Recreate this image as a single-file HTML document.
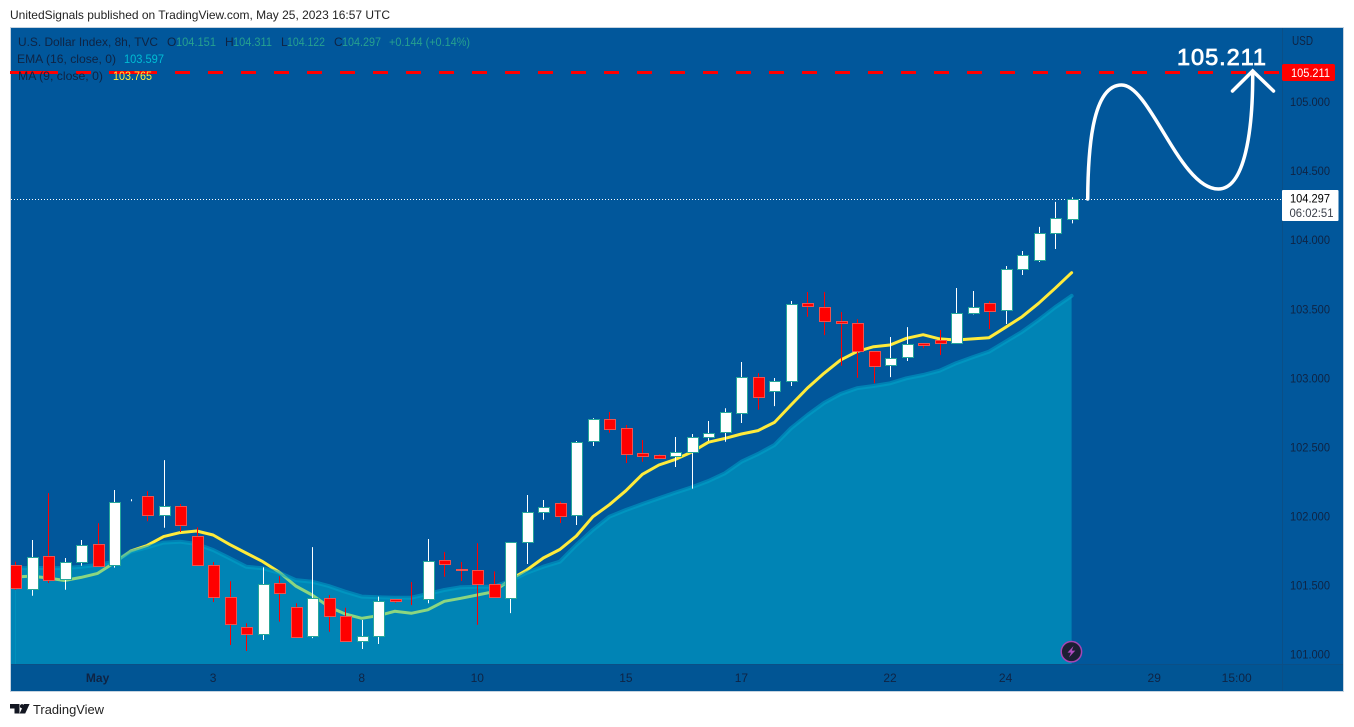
<!DOCTYPE html>
<html lang="en">
<head>
<meta charset="utf-8">
<title>U.S. Dollar Index chart</title>
<style>
html,body{margin:0;padding:0;background:#fff;width:1354px;height:727px;overflow:hidden}
svg{display:block;font-family:"Liberation Sans",sans-serif}
</style>
</head>
<body>
<svg id="chart" xmlns="http://www.w3.org/2000/svg" width="1354" height="727" viewBox="0 0 1354 727">
  <defs><clipPath id="plotClip"><rect x="11" y="28" width="1271" height="636"/></clipPath></defs>
  <text x="10" y="19" font-size="12" fill="#222" textLength="380" lengthAdjust="spacingAndGlyphs">UnitedSignals published on TradingView.com, May 25, 2023 16:57 UTC</text>
  <rect x="10.5" y="27.5" width="1333" height="664" fill="#01579b" stroke="#c5d3e0"/>
  <rect x="11" y="664" width="1332" height="27" fill="#015594"/>
  <g id="plot" clip-path="url(#plotClip)"></g>
  <line x1="1282.5" y1="28" x2="1282.5" y2="691" stroke="#0b4f86"/>
  <line x1="11" y1="664.5" x2="1343" y2="664.5" stroke="#0b4f86"/>
  <g id="priceAxis"></g>
  <g id="timeAxis"></g>
  <g id="overlay">
    <line x1="10" y1="72.5" x2="1282" y2="72.5" stroke="#ff0000" stroke-width="3" stroke-dasharray="15 18"/>
    <line x1="25" y1="72.5" x2="43" y2="72.5" stroke="#ff0000" stroke-width="3"/>
    <line x1="124" y1="72.5" x2="142" y2="72.5" stroke="#ff0000" stroke-width="3"/>
    <path d="M1087.7 199 C1088 150 1092 85 1121.7 85 C1150 85 1180 189 1218.3 189 C1245 189 1253 130 1252.7 72" fill="none" stroke="#fff" stroke-width="3.5" stroke-linecap="round"/>
    <path d="M1232.5 91 L1252.7 71 L1273.5 91" fill="none" stroke="#fff" stroke-width="3.5" stroke-linecap="round" stroke-linejoin="miter"/>
    <text x="1177" y="65" font-size="23.5" fill="#fff" stroke="#fff" stroke-width="0.8" textLength="89" lengthAdjust="spacing">105.211</text>
  </g>
  <g font-size="12">
    <text x="18" y="46" fill="#0f2444" textLength="140" lengthAdjust="spacingAndGlyphs">U.S. Dollar Index, 8h, TVC</text>
    <text x="167" y="46" fill="#0f2444">O</text>
    <text x="176" y="46" fill="#26a08f" textLength="40" lengthAdjust="spacingAndGlyphs">104.151</text>
    <text x="225" y="46" fill="#0f2444">H</text>
    <text x="233" y="46" fill="#26a08f" textLength="39" lengthAdjust="spacingAndGlyphs">104.311</text>
    <text x="281" y="46" fill="#0f2444">L</text>
    <text x="287" y="46" fill="#26a08f" textLength="38" lengthAdjust="spacingAndGlyphs">104.122</text>
    <text x="334" y="46" fill="#0f2444">C</text>
    <text x="342" y="46" fill="#26a08f" textLength="39" lengthAdjust="spacingAndGlyphs">104.297</text>
    <text x="389" y="46" fill="#26a08f" textLength="81" lengthAdjust="spacingAndGlyphs">+0.144 (+0.14%)</text>
    <text x="17" y="63" fill="#0f2444" textLength="99" lengthAdjust="spacingAndGlyphs">EMA (16, close, 0)</text>
    <text x="124" y="63" fill="#00bcd4" textLength="40" lengthAdjust="spacingAndGlyphs">103.597</text>
    <text x="18" y="80" fill="#0f2444" textLength="85" lengthAdjust="spacingAndGlyphs">MA (9, close, 0)</text>
    <text x="113" y="80" fill="#ffeb3b" textLength="39" lengthAdjust="spacingAndGlyphs">103.765</text>
  </g>
  <text x="1292" y="45" font-size="13" fill="#0f2444" textLength="21" lengthAdjust="spacingAndGlyphs">USD</text>
  <g>
    <rect x="1282" y="64" width="53" height="17" rx="2" fill="#ff0000"/>
    <text x="1291" y="77" font-size="12" fill="#fff" textLength="39" lengthAdjust="spacingAndGlyphs">105.211</text>
  </g>
  <g>
    <rect x="1282" y="190" width="56.5" height="31" rx="1" fill="#fff"/>
    <text x="1290" y="202.5" font-size="12" fill="#000" textLength="40" lengthAdjust="spacingAndGlyphs">104.297</text>
    <text x="1289.5" y="217" font-size="12" fill="#3a3f4a" textLength="44" lengthAdjust="spacingAndGlyphs">06:02:51</text>
  </g>
  <g>
    <circle cx="1071.4" cy="651.7" r="10.2" fill="#1c1f33" stroke="#a646b4" stroke-width="1.5"/>
    <path d="M1073.5 646 L1067.5 652.6 L1071 652.6 L1069 657.4 L1075.3 650.6 L1071.8 650.6 Z" fill="#b04cc0"/>
  </g>
  <g>
    <path d="M10 704 H19.5 V713.5 H14.5 V708.5 H10 Z M24 704 H29.6 L25.2 713.5 H19.6 Z" fill="#131722"/>
    <circle cx="22" cy="706.2" r="2.1" fill="#131722"/>
    <text x="33" y="714" font-size="13" fill="#222" textLength="71" lengthAdjust="spacingAndGlyphs">TradingView</text>
  </g>
</svg>
<script>
const opens = [101.646,101.472,101.711,101.545,101.668,101.798,101.646,102.112,102.146,102.008,102.073,101.856,101.646,101.414,101.197,101.146,101.513,101.342,101.132,101.407,101.277,101.096,101.132,101.395,101.400,101.400,101.682,101.618,101.610,101.508,101.407,101.812,102.030,102.095,102.008,102.544,102.703,102.638,102.457,102.442,102.432,102.464,102.573,102.609,102.747,103.007,102.906,102.978,103.543,103.514,103.413,103.398,103.195,103.094,103.152,103.253,103.275,103.253,103.471,103.543,103.492,103.789,103.854,104.050,104.151];
const highs = [101.672,101.829,102.169,101.699,101.829,101.950,102.191,102.124,102.182,102.408,102.090,101.921,101.670,101.530,101.226,101.631,101.568,101.371,101.778,101.431,101.339,101.250,101.419,101.395,101.525,101.836,101.742,101.670,101.805,101.602,101.812,102.155,102.119,102.106,102.546,102.712,102.756,102.662,102.553,102.450,102.575,102.597,102.691,102.783,103.118,103.036,103.002,103.560,103.625,103.625,103.480,103.427,103.195,103.299,103.371,103.253,103.350,103.654,103.632,103.557,103.813,103.922,104.096,104.277,104.311];
const lows = [101.469,101.426,101.518,101.469,101.643,101.636,101.629,102.110,101.965,101.918,101.887,101.646,101.380,101.069,101.025,101.105,101.238,101.125,101.119,101.165,101.096,101.040,101.076,101.375,101.358,101.371,101.563,101.532,101.216,101.414,101.300,101.655,101.976,101.952,101.938,102.510,102.606,102.387,102.396,102.418,102.358,102.201,102.546,102.541,102.676,102.773,102.799,102.944,103.446,103.313,103.091,103.004,102.964,103.009,103.125,103.219,103.169,103.253,103.463,103.357,103.393,103.748,103.842,103.936,104.122];
const closes = [101.479,101.704,101.537,101.668,101.788,101.636,102.102,102.114,102.008,102.073,101.936,101.646,101.414,101.219,101.146,101.505,101.443,101.125,101.407,101.277,101.096,101.132,101.385,101.382,101.397,101.675,101.650,101.610,101.505,101.414,101.812,102.030,102.066,101.998,102.537,102.703,102.631,102.447,102.432,102.418,102.464,102.573,102.602,102.754,103.007,102.862,102.978,103.536,103.521,103.413,103.398,103.195,103.087,103.145,103.246,103.239,103.253,103.471,103.514,103.485,103.789,103.891,104.050,104.159,104.297];
const emaValues = [101.624,101.626,101.626,101.624,101.636,101.648,101.672,101.744,101.776,101.810,101.817,101.800,101.757,101.697,101.636,101.624,101.592,101.539,101.527,101.496,101.455,101.419,101.414,101.411,101.411,101.438,101.467,101.487,101.491,101.491,101.534,101.592,101.636,101.672,101.793,101.902,101.998,102.046,102.090,102.131,102.172,102.211,102.256,102.312,102.396,102.452,102.517,102.638,102.734,102.821,102.886,102.928,102.944,102.964,103.000,103.024,103.055,103.109,103.152,103.193,103.265,103.337,103.422,103.514,103.597];
const maValues = [101.561,101.568,101.554,101.536,101.558,101.587,101.663,101.749,101.789,101.854,101.883,101.894,101.865,101.797,101.735,101.673,101.597,101.496,101.431,101.346,101.293,101.262,101.281,101.313,101.298,101.324,101.385,101.407,101.431,101.455,101.542,101.612,101.699,101.760,101.858,101.998,102.085,102.186,102.305,102.372,102.413,102.466,102.537,102.565,102.597,102.621,102.681,102.807,102.930,103.036,103.132,103.193,103.229,103.241,103.290,103.316,103.285,103.277,103.285,103.294,103.369,103.446,103.543,103.652,103.765];
const priceTicks = [105,104.5,104,103.5,103,102.5,102,101.5,101];
const priceTickLabels = ["105.000","104.500","104.000","103.500","103.000","102.500","102.000","101.500","101.000"];
const timeTickBars = [5,12,21,28,37,44,53,60,69,74];
const timeTickLabels = ["May","3","8","10","15","17","22","24","29","15:00"];
const lastPrice = 104.297;

const SVG_NS = 'http://www.w3.org/2000/svg';
const xScale = i => 15 + i * 16.51;
const yScale = p => 654.5 - (p - 101) * 138.1;
const plot = document.getElementById('plot');
const priceAxis = document.getElementById('priceAxis');
const timeAxis = document.getElementById('timeAxis');

function make(tag, parent, attrs) {
  const node = document.createElementNS(SVG_NS, tag);
  for (const k in attrs) node.setAttribute(k, attrs[k]);
  parent.appendChild(node);
  return node;
}
const snap = v => Math.round(v - 0.5) + 0.5;

const maPoints = maValues.map((v, i) => xScale(i).toFixed(1) + ',' + yScale(v).toFixed(1)).join(' ');
const maLine = make('polyline', plot, {points: maPoints, fill: 'none', stroke: '#ffeb3b', 'stroke-width': 3, 'stroke-linejoin': 'round', 'stroke-linecap': 'round'});



const lastBar = emaValues.length - 1;
const emaPoints = emaValues.map((v, i) => xScale(i).toFixed(1) + ',' + yScale(v).toFixed(1));
const areaPath = 'M' + xScale(0).toFixed(1) + ' 664 L' + emaPoints.join(' L') + ' L' + xScale(lastBar).toFixed(1) + ' 664 Z';
const leftEdge = make('rect', plot, {x: 11, y: yScale(emaValues[0]).toFixed(1), width: 4.5, height: (664 - yScale(emaValues[0])).toFixed(1), fill: '#00bcd4', 'fill-opacity': 0.45});


const emaArea = make('path', plot, {d: areaPath, fill: '#00bcd4', 'fill-opacity': 0.45});


const emaLine = make('polyline', plot, {points: '11,' + yScale(emaValues[0]).toFixed(1) + ' ' + emaPoints.join(' '), fill: 'none', stroke: '#00a4c8', 'stroke-opacity': 0.55, 'stroke-width': 4, 'stroke-linejoin': 'round', 'stroke-linecap': 'round'});



const priceLine = make('line', plot, {x1: 11, x2: 1282, y1: snap(yScale(lastPrice)), y2: snap(yScale(lastPrice)), stroke: '#fff', 'stroke-dasharray': '1 2'});



opens.forEach((open, i) => {
  const close = closes[i];
  const up = close >= open;
  const xc = Math.round(xScale(i));
  const g = make('g', plot, {});
  
  
  const wick = make('line', g, {x1: xc + 0.5, x2: xc + 0.5, y1: yScale(highs[i]).toFixed(1), y2: yScale(lows[i]).toFixed(1), stroke: up ? '#ffffff' : '#ff0000', 'stroke-width': 1});
  
  
  const top = snap(yScale(Math.max(open, close)));
  const bottom = snap(yScale(Math.min(open, close)));
  const body = make('rect', g, {x: xc - 4.5, y: top, width: 11, height: Math.max(bottom - top, 0), fill: up ? '#ffffff' : '#ff0000', stroke: up ? '#26a69a' : '#ef5350', 'stroke-width': 1});
  
  
});

priceTicks.forEach((p, i) => {
  const t = make('text', priceAxis, {x: 1290, y: (yScale(p) + 4).toFixed(1), 'font-size': 12, fill: '#0f2444', textLength: 40, lengthAdjust: 'spacingAndGlyphs'});
  t.textContent = priceTickLabels[i];
  
  
});

timeTickBars.forEach((b, i) => {
  const t = make('text', timeAxis, {x: xScale(b).toFixed(1), y: 682, 'font-size': 12, fill: '#0f2444', 'text-anchor': 'middle', 'font-weight': timeTickLabels[i] === 'May' ? 'bold' : 'normal'});
  t.textContent = timeTickLabels[i];
  
  
});
</script>
</body>
</html>
